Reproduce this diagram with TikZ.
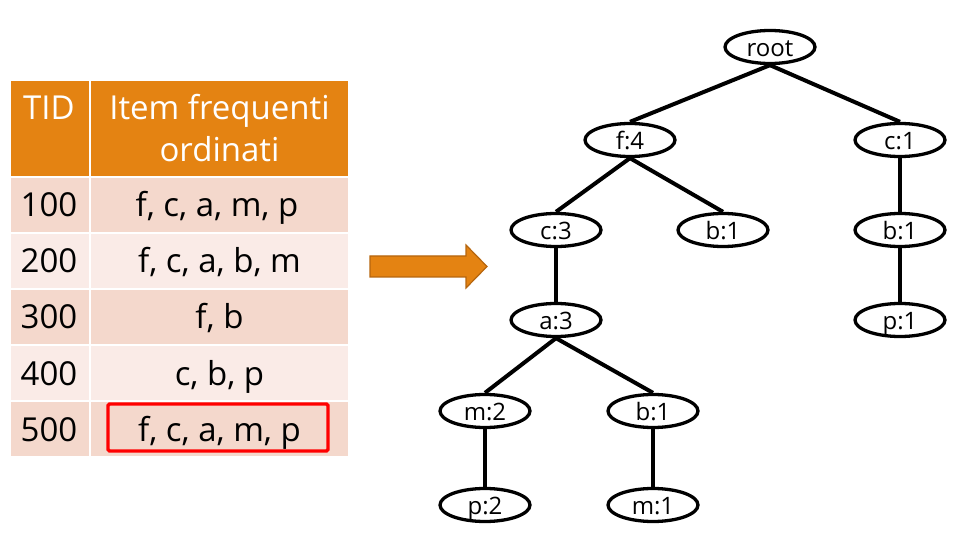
\documentclass[tikz,border=0pt]{standalone}
\usepackage{fontspec}
\setmainfont{Open Sans}
\usetikzlibrary{shapes.geometric}
\definecolor{hdr}{HTML}{E48312}
\definecolor{rowA}{HTML}{F4D8CC}
\definecolor{rowB}{HTML}{FAEBE7}
\definecolor{arrowline}{HTML}{B5650E}
\begin{document}
\begin{tikzpicture}[x=1pt,y=-1pt,
  cell/.style={draw=white,line width=2pt,anchor=north west,inner sep=0pt,outer sep=0pt},
  tabtxt/.style={anchor=base,inner sep=0pt,font=\fontsize{33}{42}\selectfont},
  hdrtxt/.style={tabtxt,text=white,align=center},
  tn/.style={ellipse,draw=black,line width=3.3pt,fill=white,minimum width=90pt,minimum height=33pt,inner sep=0pt,text height=19pt,text depth=0pt,font=\fontsize{24}{28}\selectfont},
  edge/.style={line width=4pt,black}]
\useasboundingbox (0,0) rectangle (972,537);
% table cells
\node[cell,fill=hdr,minimum width=80pt,minimum height=97pt] (h1) at (10,80) {};
\node[cell,fill=hdr,minimum width=259pt,minimum height=97pt] (h2) at (90,80) {};
\node[cell,fill=rowA,minimum width=80pt,minimum height=56pt] (a1) at (10,177) {};
\node[cell,fill=rowA,minimum width=259pt,minimum height=56pt] (a2) at (90,177) {};
\node[cell,fill=rowB,minimum width=80pt,minimum height=56pt] (b1) at (10,233) {};
\node[cell,fill=rowB,minimum width=259pt,minimum height=56pt] (b2) at (90,233) {};
\node[cell,fill=rowA,minimum width=80pt,minimum height=56pt] (c1) at (10,289) {};
\node[cell,fill=rowA,minimum width=259pt,minimum height=56pt] (c2) at (90,289) {};
\node[cell,fill=rowB,minimum width=80pt,minimum height=56pt] (d1) at (10,345) {};
\node[cell,fill=rowB,minimum width=259pt,minimum height=56pt] (d2) at (90,345) {};
\node[cell,fill=rowA,minimum width=80pt,minimum height=56pt] (e1) at (10,401) {};
\node[cell,fill=rowA,minimum width=259pt,minimum height=56pt] (e2) at (90,401) {};
% header text
\node[hdrtxt] (th1) at (49,120) {TID};
\node[hdrtxt] (th2) at (219.5,120) {Item frequenti};
\node[hdrtxt] (th3) at (219.5,162) {ordinati};
% rows
\node[tabtxt] (t11) at (49,217) {100};
\node[tabtxt] (t12) at (217,217) {f, c, a, m, p};
\node[tabtxt] (t21) at (49,273) {200};
\node[tabtxt] (t22) at (219.5,273) {f, c, a, b, m};
\node[tabtxt] (t31) at (49,329) {300};
\node[tabtxt] (t32) at (219.5,329) {f, b};
\node[tabtxt] (t41) at (49,385) {400};
\node[tabtxt] (t42) at (219.5,385) {c, b, p};
\node[tabtxt] (t51) at (49,441) {500};
\node[tabtxt] (t52) at (219.5,441) {f, c, a, m, p};
% red box
\draw[red,line width=3.3pt,rounded corners=1.5pt] (108,404) rectangle (328,451);
% arrow
\draw[fill=hdr,draw=arrowline,line width=1.2pt,line join=miter]
  (370,256) -- (466,256) -- (466,245) -- (487,266.5) -- (466,288) -- (466,277) -- (370,277) -- cycle;
% tree
\node[tn] (root) at (770,47) {root};
\node[tn] (f4) at (630,140) {f:4};
\node[tn] (c1n) at (900,140) {c:1};
\node[tn] (c3) at (556,230) {c:3};
\node[tn] (b1a) at (723,230) {b:1};
\node[tn] (b1b) at (900,230) {b:1};
\node[tn] (a3) at (556,320) {a:3};
\node[tn] (p1) at (900,320) {p:1};
\node[tn] (m2) at (485,411) {m:2};
\node[tn] (b1c) at (653,411) {b:1};
\node[tn] (p2) at (485,505) {p:2};
\node[tn] (m1) at (653,505) {m:1};
\draw[edge] (root.south) -- (f4.north);
\draw[edge] (root.south) -- (c1n.north);
\draw[edge] (f4.south) -- (c3.north);
\draw[edge] (f4.south) -- (b1a.north);
\draw[edge] (c1n.south) -- (b1b.north);
\draw[edge] (b1b.south) -- (p1.north);
\draw[edge] (c3.south) -- (a3.north);
\draw[edge] (a3.south) -- (m2.north);
\draw[edge] (a3.south) -- (b1c.north);
\draw[edge] (m2.south) -- (p2.north);
\draw[edge] (b1c.south) -- (m1.north);
\end{tikzpicture}
\end{document}
